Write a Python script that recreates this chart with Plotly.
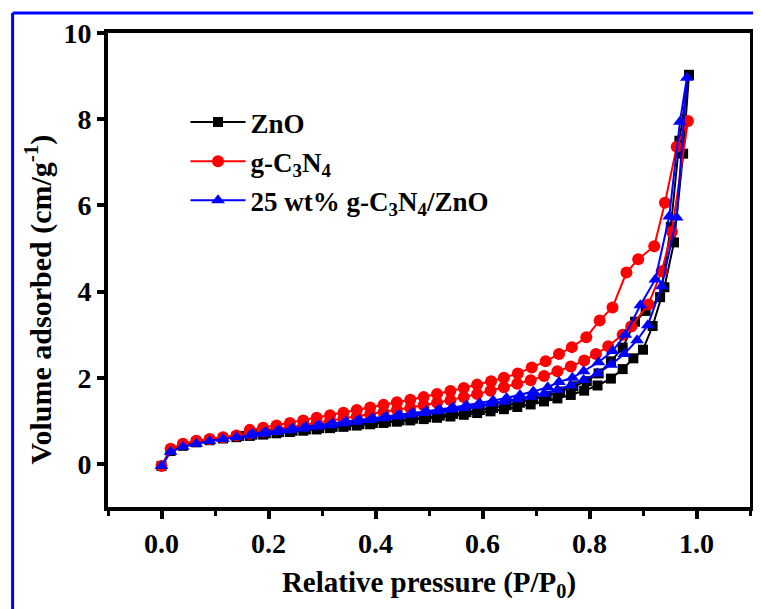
import plotly.graph_objects as go

# ---------------- data ----------------
zno_ads_x = [0.0, 0.017, 0.04, 0.065, 0.09, 0.115, 0.14, 0.165, 0.19, 0.215, 0.24, 0.265, 0.29, 0.315,
             0.34, 0.365, 0.39, 0.415, 0.44, 0.465, 0.49, 0.515, 0.54, 0.565, 0.59, 0.615, 0.64, 0.665,
             0.69, 0.715, 0.74, 0.765, 0.79, 0.815, 0.84, 0.862, 0.882, 0.9, 0.918, 0.94, 0.958, 0.975, 0.986]
zno_ads_y = [-0.05, 0.3, 0.42, 0.5, 0.55, 0.59, 0.62, 0.65, 0.68, 0.71, 0.74, 0.77, 0.8, 0.83,
             0.86, 0.89, 0.92, 0.95, 0.98, 1.01, 1.04, 1.07, 1.1, 1.14, 1.18, 1.22, 1.27, 1.32,
             1.38, 1.45, 1.52, 1.6, 1.7, 1.82, 1.98, 2.2, 2.45, 2.65, 3.2, 4.1, 5.14, 7.2, 9.03]
zno_des_x = [0.968, 0.952, 0.932, 0.905, 0.885, 0.862, 0.84, 0.817, 0.795, 0.77, 0.745, 0.72, 0.695,
             0.67, 0.645, 0.62, 0.595, 0.57, 0.545, 0.52, 0.495, 0.47, 0.445, 0.42, 0.395, 0.37, 0.345,
             0.32, 0.295, 0.27, 0.245, 0.22, 0.195, 0.17, 0.145]
zno_des_y = [7.5, 5.5, 3.87, 3.55, 3.3, 2.7, 2.38, 2.1, 1.92, 1.8, 1.68, 1.58, 1.5,
             1.42, 1.36, 1.3, 1.25, 1.2, 1.16, 1.12, 1.08, 1.05, 1.01, 0.98, 0.95, 0.92, 0.89,
             0.86, 0.83, 0.8, 0.77, 0.74, 0.71, 0.68, 0.65]

cn_ads_x = [0.0, 0.017, 0.04, 0.065, 0.09, 0.115, 0.14, 0.165, 0.19, 0.215, 0.24, 0.265, 0.29, 0.315,
            0.34, 0.365, 0.39, 0.415, 0.44, 0.465, 0.49, 0.515, 0.54, 0.565, 0.59, 0.615, 0.64, 0.665,
            0.69, 0.715, 0.74, 0.765, 0.79, 0.812, 0.835, 0.862, 0.878, 0.91, 0.935, 0.954, 0.984]
cn_ads_y = [-0.05, 0.35, 0.47, 0.54, 0.58, 0.62, 0.66, 0.7, 0.75, 0.8, 0.85, 0.9, 0.95, 1.0,
            1.05, 1.1, 1.15, 1.2, 1.25, 1.3, 1.36, 1.42, 1.48, 1.55, 1.62, 1.7, 1.78, 1.86,
            1.94, 2.04, 2.15, 2.26, 2.4, 2.55, 2.73, 3.0, 3.19, 3.7, 4.47, 5.39, 7.96]
cn_des_x = [0.963, 0.941, 0.921, 0.891, 0.869, 0.843, 0.819, 0.794, 0.767, 0.743, 0.718, 0.692, 0.666,
            0.64, 0.616, 0.59, 0.565, 0.54, 0.515, 0.49, 0.465, 0.44, 0.415, 0.39, 0.365, 0.34, 0.315,
            0.29, 0.265, 0.24, 0.215, 0.19, 0.165]
cn_des_y = [7.36, 6.06, 5.05, 4.75, 4.44, 3.63, 3.33, 2.94, 2.71, 2.55, 2.38, 2.24, 2.1,
            2.0, 1.92, 1.84, 1.76, 1.69, 1.62, 1.55, 1.49, 1.43, 1.37, 1.31, 1.25, 1.19, 1.13,
            1.07, 1.01, 0.95, 0.89, 0.84, 0.79]

comp_ads_x = [0.0, 0.017, 0.04, 0.065, 0.09, 0.115, 0.14, 0.165, 0.19, 0.215, 0.24, 0.265, 0.29, 0.315,
              0.34, 0.365, 0.39, 0.415, 0.44, 0.465, 0.49, 0.515, 0.54, 0.565, 0.59, 0.615, 0.64, 0.665,
              0.69, 0.715, 0.74, 0.765, 0.789, 0.815, 0.84, 0.865, 0.889, 0.909, 0.935, 0.963, 0.982]
comp_ads_y = [-0.05, 0.28, 0.4, 0.47, 0.53, 0.58, 0.62, 0.66, 0.7, 0.74, 0.78, 0.82, 0.86, 0.9,
              0.94, 0.98, 1.02, 1.06, 1.1, 1.14, 1.18, 1.22, 1.26, 1.3, 1.35, 1.4, 1.45, 1.5,
              1.56, 1.63, 1.72, 1.82, 1.95, 2.1, 2.3, 2.55, 2.87, 3.22, 4.12, 5.72, 8.96]
comp_des_x = [0.969, 0.949, 0.923, 0.895, 0.867, 0.843, 0.817, 0.789, 0.768, 0.743, 0.722, 0.695, 0.67,
              0.645, 0.62, 0.595, 0.57, 0.545, 0.52, 0.495, 0.47, 0.445, 0.42, 0.395, 0.37, 0.345,
              0.32, 0.295, 0.27, 0.245, 0.22, 0.195, 0.17]
comp_des_y = [7.94, 5.74, 4.28, 3.68, 3.0, 2.62, 2.36, 2.15, 2.0, 1.9, 1.78, 1.68, 1.6,
              1.53, 1.47, 1.41, 1.36, 1.31, 1.26, 1.22, 1.18, 1.14, 1.1, 1.06, 1.02, 0.98,
              0.94, 0.9, 0.86, 0.82, 0.78, 0.74, 0.7]

series_names = ["ZnO", "g-C<sub>3</sub>N<sub>4</sub>", "25 wt% g-C<sub>3</sub>N<sub>4</sub>/ZnO"]
x_tick_vals = [0.0, 0.2, 0.4, 0.6, 0.8, 1.0]
x_tick_text = ["0.0", "0.2", "0.4", "0.6", "0.8", "1.0"]
y_tick_vals = [0, 2, 4, 6, 8, 10]
x_title = "Relative pressure (P/P<sub>0</sub>)"
y_title = "Volume adsorbed (cm/g<sup>-1</sup>)"

# ---------------- figure ----------------
FONT = "Liberation Serif"
fig = go.Figure()

styles = [
    dict(color="black", symbol="square", size=10),
    dict(color="red", symbol="circle", size=12),
    dict(color="blue", symbol="triangle-up", size=12),
]
data = [
    (zno_ads_x + zno_des_x, zno_ads_y + zno_des_y),
    (cn_ads_x + cn_des_x, cn_ads_y + cn_des_y),
    (comp_ads_x + comp_des_x, comp_ads_y + comp_des_y),
]
for i, (name, st, (xs, ys)) in enumerate(zip(series_names, styles, data)):
    fig.add_trace(go.Scatter(
        x=xs, y=ys, name=name, mode="lines+markers", legendgroup=f"g{i}",
        line=dict(color=st["color"], width=2),
        marker=dict(color=st["color"], symbol=st["symbol"], size=st["size"], line=dict(width=0)),
    ))

# page offset (body margin) of 8px
OFF = 8
W, H = 753, 601
L, T = 108 - OFF, 33 - OFF
R = W - (754 - OFF)
B = H - (507 - OFF)
pw, ph = W - L - R, H - T - B

def px_x(p):  # page pixel -> paper
    return (p - OFF - L) / pw

def px_y(p):
    return (H - B - (p - OFF)) / ph

fig.update_layout(
    width=W, height=H,
    margin=dict(l=L, r=R, t=T, b=B),
    paper_bgcolor="white", plot_bgcolor="white",
    font=dict(family=FONT, color="black", size=29, weight="bold"),
    showlegend=True,
    legend=dict(
        x=px_x(186), y=px_y(98), xanchor="left", yanchor="top",
        font=dict(family=FONT, size=27, color="black", weight="bold"),
        bgcolor="rgba(0,0,0,0)", itemwidth=55, tracegroupgap=1,
    ),
    shapes=[
        dict(type="line", xref="paper", yref="paper",
             x0=px_x(12), x1=px_x(12), y0=px_y(700), y1=px_y(13),
             line=dict(color="blue", width=3)),
        dict(type="line", xref="paper", yref="paper",
             x0=px_x(12), x1=px_x(800), y0=px_y(13), y1=px_y(13),
             line=dict(color="blue", width=3)),
    ],
    annotations=[
        dict(text=y_title, textangle=-90, xref="paper", yref="paper",
             x=px_x(38), y=px_y(299), xanchor="center", yanchor="middle",
             showarrow=False, font=dict(family=FONT, size=30, weight="bold", color="black")),
    ],
)

fig.update_xaxes(
    range=[-0.1, 1.1], tickmode="array", tickvals=x_tick_vals, ticktext=x_tick_text,
    showgrid=False, zeroline=False,
    showline=True, linecolor="black", linewidth=4, mirror=True,
    ticks="outside", ticklen=8, tickwidth=4, tickcolor="black",
    tickfont=dict(family=FONT, size=28, weight="bold"),
    minor=dict(tickmode="array", tickvals=[-0.1, 0.1, 0.3, 0.5, 0.7, 0.9, 1.1],
               ticks="outside", ticklen=5, tickwidth=3, tickcolor="black"),
    title=dict(text=x_title, standoff=15,
               font=dict(family=FONT, size=29, weight="bold")),
)
fig.update_yaxes(
    range=[-1, 10], tickmode="array", tickvals=y_tick_vals,
    showgrid=False, zeroline=False,
    showline=True, linecolor="black", linewidth=4, mirror=True,
    ticks="outside", ticklen=7, tickwidth=4, tickcolor="black",
    tickfont=dict(family=FONT, size=28, weight="bold"),
)

fig.write_html("out.html")
